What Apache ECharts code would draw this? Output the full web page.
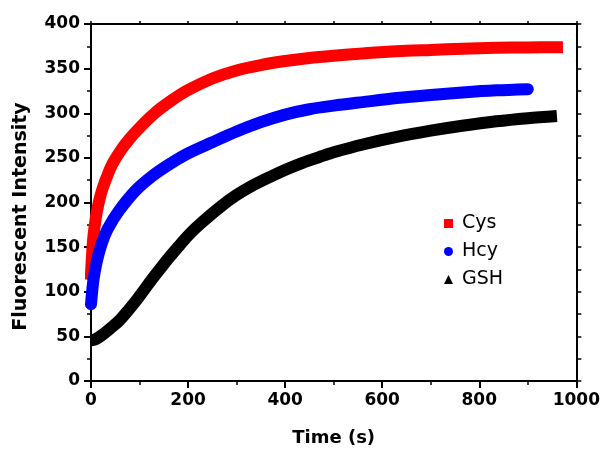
<!DOCTYPE html>
<html>
<head>
<meta charset="utf-8">
<script src="https://cdn.jsdelivr.net/npm/echarts@6/dist/echarts.min.js"></script>
<style>
  html, body { margin: 0; padding: 0; background: #fff; }
  #chart { width: 603px; height: 452px; }
</style>
</head>
<body>
<div id="chart"></div>
<script>
// values (time in s, fluorescent intensity)
const cysTime = [0, 2, 5, 10, 16, 24, 35, 45, 62, 79, 97, 131, 165, 200, 250, 300, 350, 400, 450, 500, 560, 630, 700, 765, 835, 900, 960]
const cysValue = [120, 140, 162, 183, 200, 216, 232, 244, 259, 271, 282, 300, 314, 326, 339, 348, 354, 358.5, 362, 364.5, 367, 369.5, 371, 372.3, 373.3, 373.8, 374]

const hcyTime = [0, 2, 5, 10, 16, 24, 35, 58, 93, 127, 162, 196, 250, 300, 350, 400, 450, 500, 560, 630, 700, 765, 835, 900]
const hcyValue = [86, 98, 113, 129, 143, 157, 171, 191, 214, 230, 243, 254, 267.5, 279.5, 290, 298.5, 304.5, 308.5, 312.5, 317, 320.5, 323.3, 325.7, 327]

const gshTime = [0, 10, 24, 40, 58, 75, 93, 110, 127, 145, 162, 180, 196, 213, 230, 265, 299, 333, 368, 402, 436, 471, 502, 560, 630, 700, 765, 835, 900, 960]
const gshValue = [45.5, 47, 52, 59, 67.5, 78, 90, 102.5, 115, 127.5, 139, 150.5, 160.5, 170, 178.5, 194.5, 208, 219, 228.5, 237, 244.5, 251, 256.5, 265, 273.5, 280.5, 286, 291, 294.5, 297]

const seriesNames = ['Cys', 'Hcy', 'GSH']
const seriesColors = ['#ff0000', '#0000ff', '#000000']
const legendIcons = ['rect', 'circle', 'triangle']
const lineCaps = ['square', 'round', 'butt']

const xTicks = { min: 0, max: 1000, interval: 200 }
const yTicks = { min: 0, max: 400, interval: 50 }

const boldFont = '"DejaVu Sans", "Liberation Sans", Arial, sans-serif'

function pairs(ts, vs) {
  return ts.map((t, i) => [t, vs[i]])
}
const seriesData = [pairs(cysTime, cysValue), pairs(hcyTime, hcyValue), pairs(gshTime, gshValue)]

const chart = echarts.init(document.getElementById('chart'))

const axisLine = { show: true, onZero: false, lineStyle: { color: '#000', width: 2 } }
const tick = { show: true, inside: false, length: 7, lineStyle: { color: '#000', width: 2 } }
const minor = { show: true, splitNumber: 2, length: 4, lineStyle: { color: '#000', width: 1.5 } }
const label = { color: '#000', fontFamily: boldFont, fontWeight: 'bold', fontSize: 17 }

const option = {
  animation: false,
  backgroundColor: '#fff',
  grid: { left: 91, right: 26, top: 24, bottom: 71 },
  xAxis: [{
    type: 'value',
    position: 'bottom',
    min: xTicks.min, max: xTicks.max, interval: xTicks.interval,
    name: 'Time (s)',
    nameLocation: 'middle',
    nameGap: 48,
    nameTextStyle: { color: '#000', fontFamily: boldFont, fontWeight: 'bold', fontSize: 18 },
    axisLine: axisLine,
    axisTick: tick,
    minorTick: minor,
    splitLine: { show: false },
    axisLabel: Object.assign({ margin: 11, formatter: v => String(v) }, label)
  }, {
    type: 'value',
    position: 'top',
    min: xTicks.min, max: xTicks.max, interval: xTicks.interval,
    axisLine: axisLine,
    axisTick: { show: true, length: 3, lineStyle: { color: '#000', width: 1.5 } },
    minorTick: { show: true, splitNumber: 2, length: 3, lineStyle: { color: '#000', width: 1.5 } },
    splitLine: { show: false },
    axisLabel: { show: false }
  }],
  yAxis: [{
    type: 'value',
    position: 'left',
    min: yTicks.min, max: yTicks.max, interval: yTicks.interval,
    name: 'Fluorescent Intensity',
    nameLocation: 'middle',
    nameGap: 60,
    nameTextStyle: { color: '#000', fontFamily: boldFont, fontWeight: 'bold', fontSize: 19, padding: [0, 28, 0, 0] },
    axisLine: axisLine,
    axisTick: tick,
    minorTick: minor,
    splitLine: { show: false },
    axisLabel: Object.assign({ margin: 11 }, label)
  }, {
    type: 'value',
    position: 'right',
    min: yTicks.min, max: yTicks.max, interval: yTicks.interval,
    axisLine: axisLine,
    axisTick: { show: true, length: 5, lineStyle: { color: '#000', width: 1.5 } },
    minorTick: { show: true, splitNumber: 2, length: 5, lineStyle: { color: '#000', width: 1.5 } },
    splitLine: { show: false },
    axisLabel: { show: false }
  }],
  legend: {
    orient: 'vertical',
    left: 439,
    top: 209,
    itemWidth: 9,
    itemHeight: 9,
    itemGap: 9,
    textStyle: { color: '#000', fontFamily: boldFont, fontSize: 19, lineHeight: 18, padding: [0, 0, 0, 4] },
    data: seriesNames.map((n, i) => ({ name: n, icon: legendIcons[i], itemStyle: { color: seriesColors[i] } }))
  },
  series: seriesNames.map((n, i) => ({
    name: n,
    type: 'line',
    xAxisIndex: 0,
    yAxisIndex: 0,
    data: seriesData[i],
    smooth: 0.3,
    showSymbol: false,
    itemStyle: { color: seriesColors[i] },
    lineStyle: { color: seriesColors[i], width: 12, cap: lineCaps[i], join: 'round' }
  }))
}

chart.setOption(option)
</script>
</body>
</html>
